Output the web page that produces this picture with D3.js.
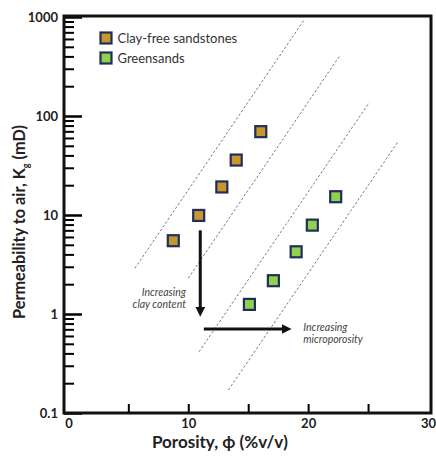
<!DOCTYPE html>
<html>
<head>
<meta charset="utf-8">
<script src="https://cdn.jsdelivr.net/npm/d3@7"></script>
<style>
  body { margin: 0; background: #fff; }
  svg text { font-family: Lato, "Open Sans", sans-serif; }
</style>
</head>
<body>
<div class="chart"></div>
<script>
// data
var seriesNames = ["Clay-free sandstones", "Greensands"];
var seriesColors = ["#c8962c", "#92d050"];
var clayFreePorosity = [8.75, 10.87, 12.8, 14.0, 16.05];
var clayFreePerm = [5.5, 9.9, 19.2, 35.9, 69.5];
var greenPorosity = [15.1, 17.1, 19.0, 20.35, 22.3];
var greenPerm = [1.25, 2.17, 4.25, 7.9, 15.3];

// dashed trend lines [x1, k1, x2, k2]
var guideLines = [
  [5.55, 2.9, 19.65, 930],
  [10.0, 2.3, 22.6, 400],
  [10.9, 0.415, 25.1, 137],
  [13.35, 0.171, 27.5, 55]
];

var xTickLabels = [0, 10, 20, 30];
var xTickMarks = [5, 10, 15, 20, 25];
var yTickLabels = [0.1, 1, 10, 100, 1000];

var W = 436, H = 456;
var box = { left: 64, right: 431, top: 16, bottom: 413 };

var svg = d3.select(".chart").append("svg")
    .attr("width", W)
    .attr("height", H);

var x = d3.scaleLinear().domain([0, 30]).range([68.4, 428]);
var y = d3.scaleLog().domain([0.1, 1000]).range([413, 17]);

// minor log ticks 2..9 in each decade
var yMinor = [];
yTickLabels.slice(0, -1).forEach(function(d) {
  for (var i = 2; i <= 9; i++) yMinor.push(d * i);
});

// guide lines
svg.append("g").selectAll("line")
    .data(guideLines)
    .enter().append("line")
    .attr("x1", function(d) { return x(d[0]); })
    .attr("y1", function(d) { return y(d[1]); })
    .attr("x2", function(d) { return x(d[2]); })
    .attr("y2", function(d) { return y(d[3]); })
    .attr("stroke", "#7a7a7a")
    .attr("stroke-width", 1)
    .attr("stroke-dasharray", "2.5,2");

// y axis: minor ticks, then major with labels
svg.append("g")
    .attr("transform", "translate(" + box.left + ",0)")
    .call(d3.axisLeft(y).tickValues(yMinor).tickSize(-10).tickFormat(""))
    .call(function(g) { g.select(".domain").remove(); })
    .selectAll("line").attr("stroke-width", 2);

var yAxis = svg.append("g")
    .attr("transform", "translate(" + box.left + ",0)")
    .call(d3.axisLeft(y).tickValues(yTickLabels).tickSize(-18).tickPadding(6)
      .tickFormat(function(d) { return d < 1 ? "0.1" : d3.format("d")(d); }));
yAxis.select(".domain").remove();
yAxis.selectAll("line").attr("stroke-width", 2.5);
yAxis.selectAll("text")
    .style("font-size", "13px")
    .style("font-weight", "bold")
    .attr("fill", "#222");

// x axis ticks
var xMarks = svg.append("g")
    .attr("transform", "translate(0," + box.bottom + ")")
    .call(d3.axisBottom(x).tickValues(xTickMarks).tickSize(-9).tickFormat(""));
xMarks.select(".domain").remove();
xMarks.selectAll("line").attr("stroke-width", 2);

var xAxis = svg.append("g")
    .attr("transform", "translate(0," + box.bottom + ")")
    .call(d3.axisBottom(x).tickValues(xTickLabels).tickSize(0).tickPadding(6));
xAxis.select(".domain").remove();
xAxis.selectAll("text")
    .style("font-size", "13px")
    .style("font-weight", "bold")
    .attr("fill", "#222");

// frame
svg.append("rect")
    .attr("x", box.left)
    .attr("y", box.top)
    .attr("width", box.right - box.left)
    .attr("height", box.bottom - box.top)
    .attr("fill", "none")
    .attr("stroke", "#111")
    .attr("stroke-width", 3);

// arrows
var defs = svg.append("defs");
defs.append("marker")
    .attr("id", "head")
    .attr("viewBox", "0 0 10 10")
    .attr("refX", 1).attr("refY", 5)
    .attr("markerWidth", 3.2).attr("markerHeight", 3.2)
    .attr("orient", "auto")
  .append("path")
    .attr("d", "M0,0 L10,5 L0,10 Z")
    .attr("fill", "#111");

var arrows = [
  [11.0, 7.0, 11.0, 1.15],
  [11.3, 0.705, 17.9, 0.705]
];
svg.append("g").selectAll("line")
    .data(arrows)
    .enter().append("line")
    .attr("x1", function(d) { return x(d[0]); })
    .attr("y1", function(d) { return y(d[1]); })
    .attr("x2", function(d) { return x(d[2]); })
    .attr("y2", function(d) { return y(d[3]); })
    .attr("stroke", "#111")
    .attr("stroke-width", 3)
    .attr("marker-end", "url(#head)");

// arrow notes
var notes = [
  { x: 9.8, k: 1.52, anchor: "end", lines: ["Increasing", "clay content"] },
  { x: 19.6, k: 0.68, anchor: "start", lines: ["Increasing", "microporosity"] }
];
notes.forEach(function(n) {
  var t = svg.append("text")
      .attr("x", x(n.x))
      .attr("y", y(n.k))
      .attr("text-anchor", n.anchor)
      .style("font-size", "10.5px")
      .style("font-style", "italic")
      .attr("fill", "#444");
  n.lines.forEach(function(s, i) {
    t.append("tspan").attr("x", x(n.x)).attr("dy", i ? 12.5 : 0).text(s);
  });
});

// points
var sets = [
  { px: clayFreePorosity, py: clayFreePerm, color: seriesColors[0] },
  { px: greenPorosity, py: greenPerm, color: seriesColors[1] }
];
var sz = 11;
sets.forEach(function(s) {
  svg.append("g").selectAll("rect")
      .data(s.px)
      .enter().append("rect")
      .attr("x", function(d) { return x(d) - sz / 2; })
      .attr("y", function(d, i) { return y(s.py[i]) - sz / 2; })
      .attr("width", sz)
      .attr("height", sz)
      .attr("fill", s.color)
      .attr("stroke", "#1f2f5a")
      .attr("stroke-width", 2.2);
});

// legend
var legend = svg.append("g").attr("transform", "translate(100.5,32.5)");
seriesNames.forEach(function(name, i) {
  legend.append("rect")
      .attr("x", 0).attr("y", i * 20)
      .attr("width", sz).attr("height", sz)
      .attr("fill", seriesColors[i])
      .attr("stroke", "#1f2f5a")
      .attr("stroke-width", 2.2);
  legend.append("text")
      .attr("x", 17).attr("y", i * 20 + 10)
      .style("font-size", "13px")
      .attr("fill", "#333")
      .text(name);
});

// axis titles
svg.append("text")
    .attr("x", 220)
    .attr("y", 448)
    .attr("text-anchor", "middle")
    .style("font-size", "17px")
    .style("font-weight", "bold")
    .attr("fill", "#222")
    .text("Porosity, ϕ (%v/v)");

var yt = svg.append("text")
    .attr("transform", "translate(25,222) rotate(-90)")
    .attr("text-anchor", "middle")
    .style("font-size", "16.3px")
    .style("font-weight", "bold")
    .attr("fill", "#222");
yt.append("tspan").text("Permeability to air, K");
yt.append("tspan").attr("dy", 4).style("font-size", "9px").text("g");
yt.append("tspan").attr("dy", -4).text(" (mD)");
</script>
</body>
</html>
